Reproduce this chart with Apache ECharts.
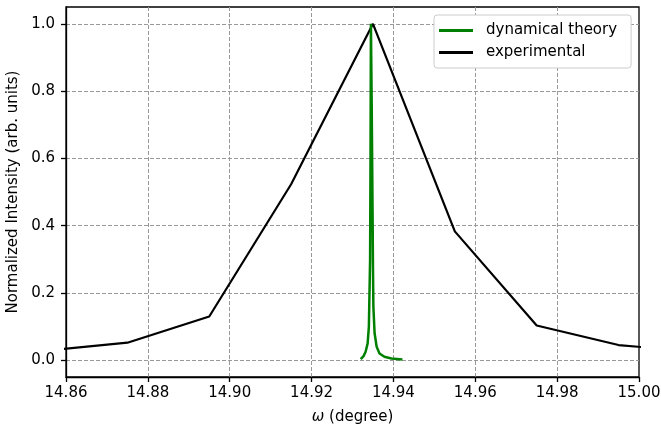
<!DOCTYPE html>
<html>
<head>
<meta charset="utf-8">
<script src="https://cdn.jsdelivr.net/npm/echarts@6/dist/echarts.min.js"></script>
<style>
  html, body { margin: 0; padding: 0; background: #fff; }
  #chart { width: 661px; height: 430px; }
</style>
</head>
<body>
<div id="chart"></div>
<script>
// experimental rocking curve (omega in degree, normalized intensity)
const expOmega = [14.855, 14.875, 14.895, 14.915, 14.935, 14.955, 14.975, 14.995, 15.015];
const expIntensity = [0.028, 0.052, 0.130, 0.523, 1.000, 0.383, 0.103, 0.045, 0.024];

// dynamical theory curve
const theoryOmega = [14.9320, 14.9327, 14.9332, 14.9337, 14.9340, 14.9343, 14.9344, 14.9345, 14.9347,
  14.9349, 14.9350, 14.9351, 14.9354, 14.9359, 14.9366, 14.9378, 14.9395, 14.9422];
const theoryIntensity = [0.003, 0.012, 0.025, 0.05, 0.10, 0.30, 0.60, 1.0, 0.75,
  0.45, 0.28, 0.16, 0.08, 0.04, 0.02, 0.01, 0.005, 0.002];

const yTicks = [0, 0.2, 0.4, 0.6, 0.8, 1.0];

const font = 'DejaVu Sans';
const chart = echarts.init(document.getElementById('chart'), null, { renderer: 'canvas' });

const option = {
  animation: false,
  textStyle: { fontFamily: font },
  grid: {
    left: 66, right: 22, top: 7, bottom: 53,
    outerBoundsMode: 'none',
    containLabel: false,
    show: true, borderColor: '#000', borderWidth: 1.3, backgroundColor: 'transparent'
  },
  legend: {
    left: 434, top: 15,
    orient: 'vertical',
    icon: 'rect',
    itemWidth: 34, itemHeight: 3, itemGap: 7,
    padding: [8, 14, 8, 5],
    backgroundColor: '#fff',
    borderColor: '#ccc', borderWidth: 1, borderRadius: 3,
    textStyle: { fontFamily: font, fontSize: 15, color: '#000', padding: [0, 0, 0, 8] },
    data: ['dynamical theory', 'experimental']
  },
  xAxis: {
    type: 'value',
    min: 14.86, max: 15.00, interval: 0.02,
    name: '{i|ω} (degree)',
    nameLocation: 'middle', nameGap: 33,
    nameTextStyle: {
      fontFamily: font, fontSize: 15, color: '#000',
      rich: { i: { fontFamily: font, fontSize: 15, fontStyle: 'italic', color: '#000' } }
    },
    axisLine: { show: true, onZero: false, lineStyle: { color: '#000', width: 1.3 } },
    axisTick: { show: true, inside: false, length: 5, lineStyle: { color: '#000', width: 1.3 } },
    axisLabel: { fontSize: 15, color: '#000', margin: 9, formatter: v => v.toFixed(2) },
    splitLine: { show: true, showMinLine: false, showMaxLine: false, lineStyle: { color: '#999', width: 1, type: [4, 2] } }
  },
  yAxis: {
    type: 'value',
    min: -0.05, max: 1.05,
    name: 'Normalized Intensity (arb. units)',
    nameLocation: 'middle', nameGap: 40,
    nameTextStyle: { fontFamily: font, fontSize: 15, color: '#000' },
    axisLine: { show: true, onZero: false, lineStyle: { color: '#000', width: 1.3 } },
    axisTick: { show: true, inside: false, length: 5, customValues: yTicks, lineStyle: { color: '#000', width: 1.3 } },
    axisLabel: { fontSize: 15, color: '#000', margin: 11, customValues: yTicks, formatter: v => v.toFixed(1) },
    splitLine: { show: true, lineStyle: { color: '#999', width: 1, type: [4, 2] } }
  },
  series: [
    {
      name: 'dynamical theory',
      type: 'line',
      symbol: 'none',
      color: '#008000',
      lineStyle: { color: '#008000', width: 2.5 },
      data: theoryOmega.map((x, i) => [x, theoryIntensity[i]]),
      z: 3
    },
    {
      name: 'experimental',
      type: 'line',
      symbol: 'none',
      color: '#000',
      lineStyle: { color: '#000', width: 2.2 },
      data: expOmega.map((x, i) => [x, expIntensity[i]]),
      z: 2
    }
  ]
};

option && chart.setOption(option);
</script>
</body>
</html>
